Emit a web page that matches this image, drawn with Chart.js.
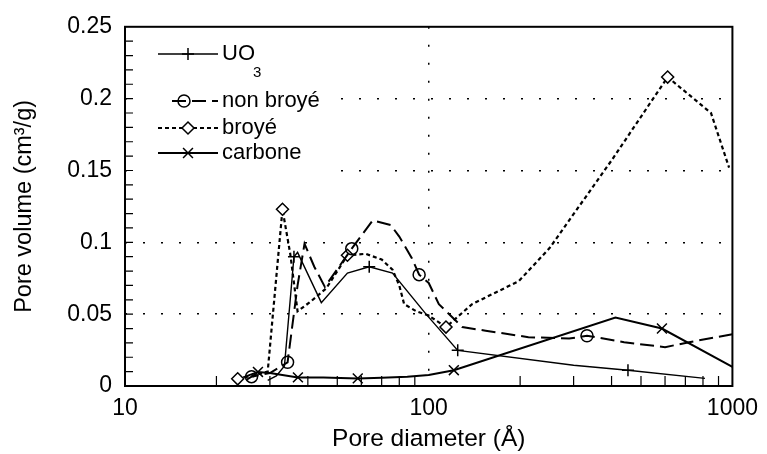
<!DOCTYPE html>
<html>
<head>
<meta charset="utf-8">
<script src="https://cdn.jsdelivr.net/npm/chart.js@4.4.0/dist/chart.umd.min.js"></script>
<style>
  html, body { margin: 0; padding: 0; background: #fff; }
</style>
</head>
<body>
<canvas id="grafico" width="767" height="454"></canvas>
<script>
// diamètre des pores (Å) et volume poreux (cm3/g)
const uo3Diam = [29.5, 31.5, 33.5, 36, 37, 44.3, 54, 63.7, 76, 98, 124.6, 300, 453, 812];
const uo3Vol = [0.004, 0.007, 0.014, 0.09, 0.093, 0.058, 0.0786, 0.083, 0.0786, 0.05, 0.0248, 0.0144, 0.011, 0.0053];
const uo3Marques = [3, 7, 10, 12];

const nonBroyeDiam = [25, 26.1, 30, 34.3, 37, 39, 42, 45.5, 55.8, 65.4, 75, 80, 88, 93, 100, 108, 129, 154, 213, 290, 332, 440, 600, 720, 1000];
const nonBroyeVol = [0.004, 0.0065, 0.009, 0.0165, 0.07, 0.099, 0.083, 0.069, 0.0956, 0.1153, 0.112, 0.104, 0.089, 0.0775, 0.0717, 0.057, 0.041, 0.0385, 0.034, 0.033, 0.035, 0.0305, 0.027, 0.0305, 0.036];
const nonBroyeMarques = [1, 3, 8, 13, 20];

const broyeDiam = [23.5, 26, 29.5, 33, 35, 37, 41, 46, 54, 62, 70, 76, 80, 83, 91, 100, 114, 139, 198, 250, 400, 612, 850, 975];
const broyeVol = [0.005, 0.007, 0.01, 0.123, 0.092, 0.052, 0.059, 0.068, 0.091, 0.092, 0.088, 0.081, 0.07, 0.057, 0.052, 0.049, 0.041, 0.057, 0.073, 0.096, 0.157, 0.215, 0.19, 0.152];
const broyeMarques = [0, 3, 8, 16, 21];

const carboneDiam = [24.5, 27.4, 30, 37.1, 45, 58.4, 70, 85, 100, 121, 412, 586, 1000];
const carboneVol = [0.006, 0.0098, 0.009, 0.006, 0.006, 0.0053, 0.0057, 0.0064, 0.0076, 0.011, 0.0477, 0.040, 0.0133];
const carboneMarques = [1, 3, 5, 9, 11];

const xTicks = [10, 100, 1000];
const yTicks = [0, 0.05, 0.1, 0.15, 0.2, 0.25];
const xTicksMineurs = [20, 30, 40, 50, 60, 70, 80, 90, 200, 300, 400, 500, 600, 700, 800, 900];
const yTicksMineurs = [0.01, 0.02, 0.03, 0.04, 0.05, 0.06, 0.07, 0.08, 0.09, 0.1, 0.11, 0.12,
  0.13, 0.14, 0.15, 0.16, 0.17, 0.18, 0.19, 0.2, 0.21, 0.22, 0.23, 0.24];

const POLICE = "'Liberation Sans', Arial, Helvetica, sans-serif";

function pontos(diam, vol) {
  return diam.map((d, i) => ({ x: d, y: vol[i] }));
}

const series = [
  { label: "UO", sub: "3", data: pontos(uo3Diam, uo3Vol), marques: uo3Marques,
    style: "cross", rayon: 6, larg: 1.4, dash: [], fond: "rgba(0,0,0,0)" },
  { label: "non broyé", data: pontos(nonBroyeDiam, nonBroyeVol), marques: nonBroyeMarques,
    style: "circle", rayon: 6, larg: 2, dash: [14, 6], fond: "rgba(0,0,0,0)" },
  { label: "broyé", data: pontos(broyeDiam, broyeVol), marques: broyeMarques,
    style: "rectRot", rayon: 6, larg: 2.2, dash: [4, 3], fond: "#fff" },
  { label: "carbone", data: pontos(carboneDiam, carboneVol), marques: carboneMarques,
    style: "crossRot", rayon: 7, larg: 2, dash: [], fond: "rgba(0,0,0,0)" }
];

const legenda = {
  id: "legenda",
  afterDatasetsDraw(chart) {
    const ctx = chart.ctx;
    const lignes = [54, 101, 128, 153];
    ctx.save();
    ctx.fillStyle = "#fff";
    ctx.fillRect(140, 28, 198, 150);
    series.forEach((s, i) => {
      const y = lignes[i];
      const x0 = i === 1 ? 172 : 158;
      const xm = i === 1 ? 184 : 188;
      ctx.strokeStyle = "#000";
      ctx.lineWidth = s.larg;
      ctx.setLineDash(s.dash);
      ctx.beginPath();
      ctx.moveTo(x0, y);
      ctx.lineTo(218, y);
      ctx.stroke();
      ctx.setLineDash([]);
      ctx.fillStyle = s.fond;
      ctx.lineWidth = 1.5;
      Chart.helpers.drawPoint(ctx, { pointStyle: s.style, radius: s.rayon, borderWidth: 1.5 }, xm, y);
      ctx.fillStyle = "#000";
      ctx.font = "22px " + POLICE;
      ctx.textBaseline = "middle";
      ctx.fillText(s.label, 222, y);
      if (s.sub) {
        const w = ctx.measureText(s.label).width;
        ctx.font = "15px " + POLICE;
        ctx.fillText(s.sub, 220 + w, y + 19);
      }
    });
    ctx.restore();
  },
  afterDraw(chart) {
    const ctx = chart.ctx;
    const a = chart.chartArea;
    const sx = chart.scales.x;
    const sy = chart.scales.y;
    ctx.save();
    ctx.strokeStyle = "#000";
    ctx.lineWidth = 1.2;
    ctx.beginPath();
    xTicksMineurs.forEach(v => {
      const px = sx.getPixelForValue(v);
      ctx.moveTo(px, a.bottom);
      ctx.lineTo(px, a.bottom - 10);
    });
    yTicksMineurs.forEach(v => {
      const py = sy.getPixelForValue(v);
      ctx.moveTo(a.left, py);
      ctx.lineTo(a.left + 8, py);
    });
    ctx.stroke();
    ctx.lineWidth = 2;
    ctx.strokeRect(a.left, a.top, a.right - a.left, a.bottom - a.top);
    ctx.restore();
  }
};

new Chart(document.getElementById("grafico"), {
  type: "line",
  data: {
    datasets: series.map(s => ({
      label: s.label,
      data: s.data,
      borderColor: "#000",
      borderWidth: s.larg,
      borderDash: s.dash,
      tension: 0,
      fill: false,
      pointStyle: s.style,
      pointRadius: ctx => s.marques.includes(ctx.dataIndex) ? s.rayon : 0,
      pointBorderWidth: 1.5,
      pointBorderColor: "#000",
      pointBackgroundColor: s.fond
    }))
  },
  plugins: [legenda],
  options: {
    responsive: false,
    animation: false,
    layout: { padding: { left: 0, right: 33, top: 22, bottom: 0 } },
    plugins: { legend: { display: false }, tooltip: { enabled: false } },
    scales: {
      x: {
        type: "logarithmic",
        min: 10,
        max: 1000,
        afterBuildTicks: scale => { scale.ticks = xTicks.map(v => ({ value: v })); },
        afterFit: scale => { scale.height = 68; },
        ticks: {
          autoSkip: false,
          maxRotation: 0,
          padding: 9,
          color: "#000",
          font: { family: POLICE, size: 23 },
          callback: v => String(v)
        },
        grid: {
          drawTicks: false,
          color: ctx => ctx.tick && ctx.tick.value === 100 ? "#000" : "rgba(0,0,0,0)",
          lineWidth: 1.5
        },
        border: { display: false, dash: [2, 16] },
        title: {
          display: true,
          text: "Pore diameter (Å)",
          color: "#000",
          font: { family: POLICE, size: 24.5 },
          padding: { top: 0, bottom: 0 }
        }
      },
      y: {
        min: 0,
        max: 0.25,
        afterBuildTicks: scale => { scale.ticks = yTicks.map(v => ({ value: v })); },
        afterFit: scale => { scale.width = 125; },
        ticks: {
          padding: 13,
          color: "#000",
          font: { family: POLICE, size: 23 },
          callback: v => String(+v.toFixed(2))
        },
        grid: {
          drawTicks: false,
          color: ctx => ctx.tick && ctx.tick.value > 0 && ctx.tick.value < 0.25 ? "#000" : "rgba(0,0,0,0)",
          lineWidth: 1.5
        },
        border: { display: false, dash: [2, 16] },
        title: {
          display: true,
          text: "Pore volume (cm³/g)",
          color: "#000",
          font: { family: POLICE, size: 23.5 },
          padding: { top: 10, bottom: 0 }
        }
      }
    }
  }
});
</script>
</body>
</html>
